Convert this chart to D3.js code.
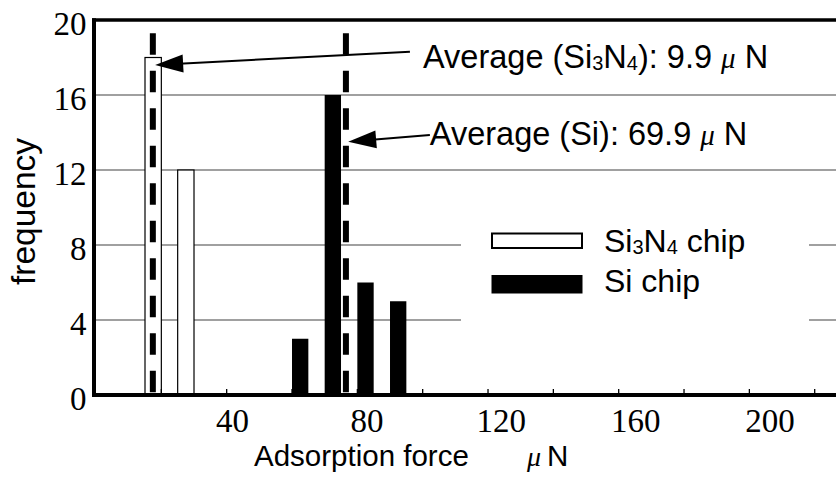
<!DOCTYPE html>
<html>
  <head>
    <meta charset="utf-8">
    <title>Adsorption force histogram</title>
    <script src="https://cdn.jsdelivr.net/npm/d3@7"></script>
    <style>
      body { margin: 0; background: #fff; }
      svg { display: block; }
      text { white-space: pre; }
    </style>
  </head>
  <body>
    <svg width="836" height="490" id="mainsvg"></svg>
    <script>
        // values
        const si3n4Bins = [15, 25];            // bin start, uN
        const si3n4Counts = [18, 12];
        const siBins = [60, 70, 80, 90];
        const siCounts = [3, 16, 6, 5];
        const binWidth = 5;
        const yTicks = [0, 4, 8, 12, 16, 20];
        const yGrid = [4, 8, 12, 16];
        const xTickLabels = [40, 80, 120, 160, 200];
        const xMinorTicks = [20, 40, 60, 80, 100, 120, 140, 160, 180, 200, 220];
        const avgLinePos = [17.4, 76.5];       // where the dashed lines sit on the drawn axis
        const avgNames = ['Si3N4', 'Si'];
        const avgValues = ['9.9', '69.9'];

        const svg = d3.select('#mainsvg');
        const width = +svg.attr('width');
        const height = +svg.attr('height');
        const plotLeft = 94, plotTop = 20, plotBottom = 395;

        const xScale = d3.scaleLinear().domain([0, 220]).range([96, 814.7]);
        const yScale = d3.scaleLinear().domain([0, 20]).range([plotBottom, plotTop]);
        // the printed tick numbers are spaced a bit wider than the tick marks
        const xLabelScale = d3.scaleLinear().domain([40, 200]).range([232.5, 770]);

        const sans = '"Liberation Sans", Arial, sans-serif';
        const serif = '"Liberation Serif", "Times New Roman", serif';

        // grid
        svg.append('g').selectAll('line').data(yGrid).enter().append('line')
        .attr('x1', plotLeft).attr('x2', width)
        .attr('y1', d => yScale(d)).attr('y2', d => yScale(d))
        .attr('stroke', '#808080').attr('stroke-width', 1.3);

        // legend background hides the grid behind it
        svg.append('rect')
        .attr('x', 461).attr('y', 198).attr('width', 348).attr('height', 136)
        .attr('fill', '#fff');

        // bars
        svg.append('g').selectAll('rect').data(si3n4Bins).enter().append('rect')
        .attr('x', d => xScale(d))
        .attr('width', d => xScale(d + binWidth) - xScale(d))
        .attr('y', (d, i) => yScale(si3n4Counts[i]))
        .attr('height', (d, i) => yScale(0) - yScale(si3n4Counts[i]))
        .attr('fill', '#fff').attr('stroke', '#000').attr('stroke-width', 1.2);

        svg.append('g').selectAll('rect').data(siBins).enter().append('rect')
        .attr('x', d => xScale(d))
        .attr('width', d => xScale(d + binWidth) - xScale(d))
        .attr('y', (d, i) => yScale(siCounts[i]))
        .attr('height', (d, i) => yScale(0) - yScale(siCounts[i]))
        .attr('fill', '#000');

        // dashed average lines
        svg.append('g').selectAll('line').data(avgLinePos).enter().append('line')
        .attr('x1', d => xScale(d)).attr('x2', d => xScale(d))
        .attr('y1', yScale(19.3)).attr('y2', yScale(0))
        .attr('stroke', '#000').attr('stroke-width', 6)
        .attr('stroke-dasharray', '21.7 15.8');

        // annotation arrows (data units)
        const arrows = [
            {from: [96.1, 18.31], to: [18.1, 17.6], text: [100.1, 17.45]},
            {from: [102.2, 13.87], to: [77.2, 13.51], text: [102.2, 13.35]}
        ];
        const ag = svg.append('g');
        arrows.forEach((a, i) => {
            const x0 = xScale(a.from[0]), y0 = yScale(a.from[1]);
            const x1 = xScale(a.to[0]), y1 = yScale(a.to[1]);
            const len = Math.hypot(x1 - x0, y1 - y0);
            const ux = (x1 - x0) / len, uy = (y1 - y0) / len;
            const hl = 28, hw = 9;
            const bx = x1 - ux * hl, by = y1 - uy * hl;
            ag.append('line')
            .attr('x1', x0).attr('y1', y0).attr('x2', bx + ux * 4).attr('y2', by + uy * 4)
            .attr('stroke', '#000').attr('stroke-width', 2);
            ag.append('polygon')
            .attr('points', [[x1, y1], [bx - uy * hw, by + ux * hw], [bx + uy * hw, by - ux * hw]].map(p => p.join(',')).join(' '))
            .attr('fill', '#000');

            const t = ag.append('text')
            .attr('x', xScale(a.text[0])).attr('y', yScale(a.text[1]))
            .attr('font-family', sans).attr('font-size', 32.5).attr('fill', '#000');
            if (avgNames[i] === 'Si3N4') {
                t.append('tspan').text('Average (Si');
                t.append('tspan').attr('font-size', 20).attr('dy', 2).text('3');
                t.append('tspan').attr('dy', -2).text('N');
                t.append('tspan').attr('font-size', 20).attr('dy', 2).text('4');
                t.append('tspan').attr('dy', -2).text('): ' + avgValues[i] + ' ');
            } else {
                t.append('tspan').text('Average (' + avgNames[i] + '): ' + avgValues[i] + ' ');
            }
            t.append('tspan').attr('font-family', serif).attr('font-style', 'italic').attr('font-size', 29).text('\u03bc');
            t.append('tspan').text(' N');
        });

        // axes frame
        svg.append('line').attr('x1', plotLeft).attr('x2', plotLeft)
        .attr('y1', plotTop - 1.7).attr('y2', plotBottom + 2)
        .attr('stroke', '#000').attr('stroke-width', 4);
        svg.append('line').attr('x1', plotLeft - 2).attr('x2', width)
        .attr('y1', plotTop).attr('y2', plotTop)
        .attr('stroke', '#000').attr('stroke-width', 3.4);
        svg.append('line').attr('x1', plotLeft - 2).attr('x2', width)
        .attr('y1', plotBottom).attr('y2', plotBottom)
        .attr('stroke', '#000').attr('stroke-width', 4);

        svg.append('g').selectAll('line').data(xMinorTicks).enter().append('line')
        .attr('x1', d => xScale(d)).attr('x2', d => xScale(d))
        .attr('y1', plotBottom - 1).attr('y2', plotBottom - 6)
        .attr('stroke', '#000').attr('stroke-width', 1.3);

        // tick labels
        svg.append('g').selectAll('text').data(yTicks).enter().append('text')
        .attr('x', 86.5).attr('y', d => yScale(d) + 14.5)
        .attr('text-anchor', 'end')
        .attr('font-family', serif).attr('font-size', 33)
        .text(d => d);

        svg.append('g').selectAll('text').data(xTickLabels).enter().append('text')
        .attr('x', d => xLabelScale(d)).attr('y', 431.5)
        .attr('text-anchor', 'middle')
        .attr('font-family', serif).attr('font-size', 33)
        .text(d => d);

        // axis titles
        const xt = svg.append('text')
        .attr('x', 254).attr('y', 466)
        .attr('font-family', sans).attr('font-size', 29.5);
        xt.append('tspan').text('Adsorption force');
        xt.append('tspan').attr('x', 527).attr('font-family', serif).attr('font-style', 'italic').attr('font-size', 28).text('\u03bc');
        xt.append('tspan').attr('dx', 6).text('N');

        svg.append('text')
        .attr('transform', 'translate(35, 211.5) rotate(-90)')
        .attr('text-anchor', 'middle')
        .attr('font-family', sans).attr('font-size', 33.5)
        .text('frequency');

        // legend
        const lg = svg.append('g');
        lg.append('rect').attr('x', 492).attr('y', 233.5).attr('width', 90).attr('height', 14.5)
        .attr('fill', '#fff').attr('stroke', '#000').attr('stroke-width', 2);
        lg.append('rect').attr('x', 491.5).attr('y', 275).attr('width', 91).attr('height', 18.5)
        .attr('fill', '#000');
        const l1 = lg.append('text').attr('x', 604).attr('y', 251.5)
        .attr('font-family', sans).attr('font-size', 32);
        l1.append('tspan').text('Si');
        l1.append('tspan').attr('font-size', 20).attr('dy', 2).text('3');
        l1.append('tspan').attr('dy', -2).text('N');
        l1.append('tspan').attr('font-size', 20).attr('dy', 2).text('4');
        l1.append('tspan').attr('dy', -2).text(' chip');
        lg.append('text').attr('x', 604).attr('y', 291.5)
        .attr('font-family', sans).attr('font-size', 32)
        .text('Si chip');
    </script>
  </body>
</html>
